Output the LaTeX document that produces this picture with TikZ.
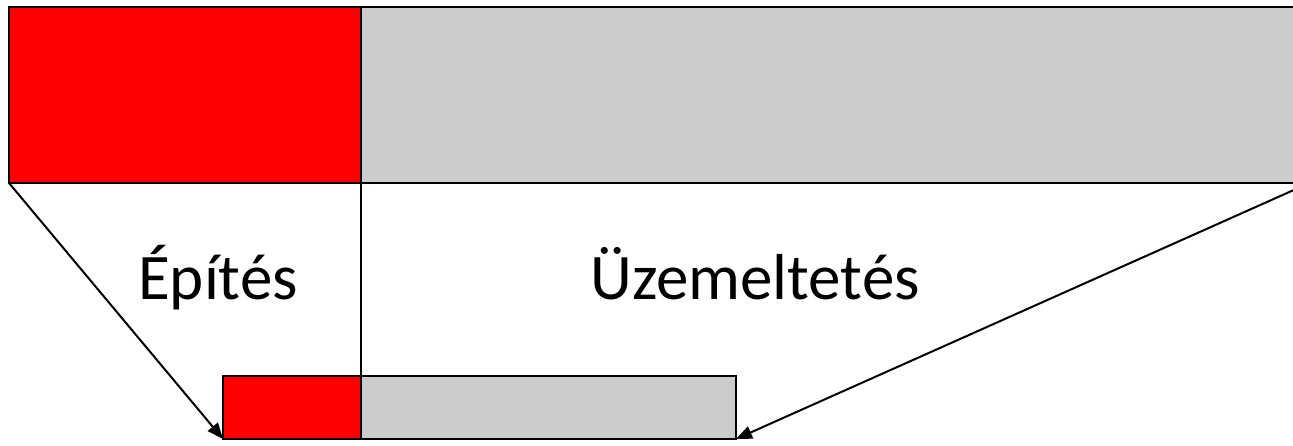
\documentclass[tikz,border=0pt]{standalone}
\usepackage{fontspec}
\setmainfont{Carlito}
\usetikzlibrary{arrows.meta}
\definecolor{barred}{HTML}{FF0000}
\definecolor{bargray}{HTML}{CCCCCC}
\tikzset{
  seg/.style={draw=black, line width=2.4pt, inner sep=0pt, outer sep=0pt, anchor=north west},
  redseg/.style={seg, fill=barred},
  grayseg/.style={seg, fill=bargray},
  zoomarrow/.style={draw=black, line width=2pt, -{Triangle[length=16pt,width=13pt]}},
  label/.style={font=\fontsize{65}{70}\selectfont, anchor=base, inner sep=0pt}
}
\begin{document}
\begin{tikzpicture}[x=1pt,y=-1pt]
\useasboundingbox (0,0) rectangle (1293,446);
\clip (0,0) rectangle (1293,446);
\node[redseg, minimum width=352pt, minimum height=176pt] (topred) at (9,7) {};
\node[grayseg, minimum width=960pt, minimum height=176pt] (topgray) at (361,7) {};
\node[redseg, minimum width=138pt, minimum height=63pt] (botred) at (223,376) {};
\node[grayseg, minimum width=375pt, minimum height=63pt] (botgray) at (361,376) {};
\coordinate (rstart) at (1305,185);
\draw[line width=2pt] (topred.south east) -- (botred.north east);
\draw[zoomarrow] (topred.south west) -- (botred.south west);
\draw[zoomarrow] (rstart) -- (botgray.south east);
\node[label] (epites) at (218,300) {Építés};
\node[label] (uzem) at (755,300) {Üzemeltetés};
\end{tikzpicture}
\end{document}
